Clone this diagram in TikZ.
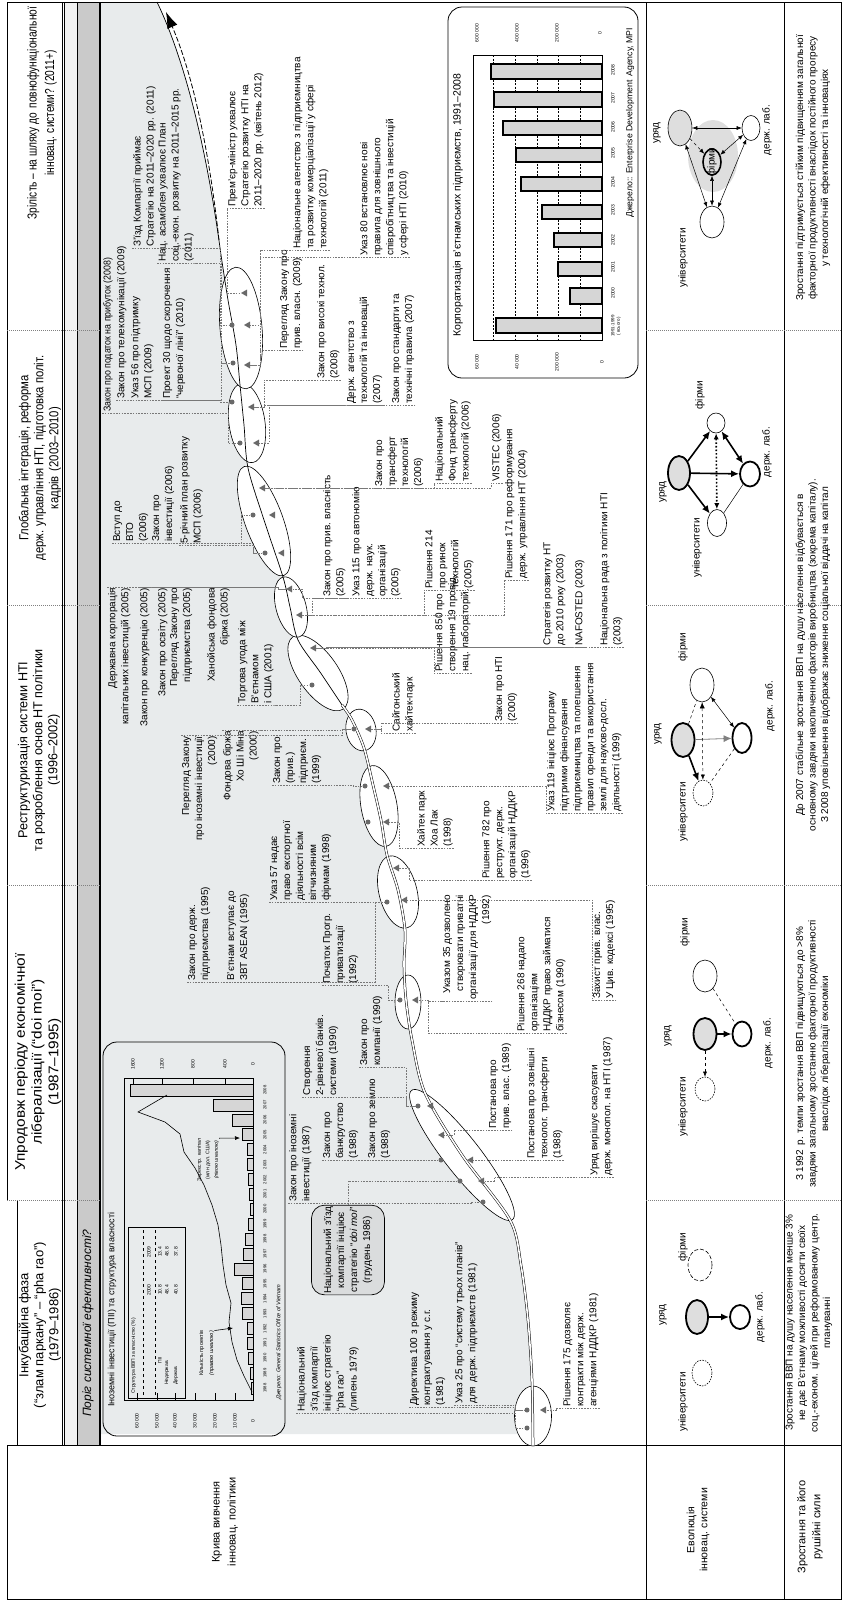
\documentclass[tikz,border=0pt]{standalone}
\usepackage{fontspec}
\setmainfont{Liberation Sans}
\usetikzlibrary{arrows.meta,shapes.geometric,calc}
\definecolor{bgfill}{RGB}{232,235,236}
\definecolor{bandlt}{RGB}{241,241,241}
\definecolor{banddk}{RGB}{202,202,202}
\definecolor{barfill}{RGB}{214,214,214}
\definecolor{mkgray}{RGB}{105,105,105}
\definecolor{leadgray}{RGB}{120,120,120}
\definecolor{govfill}{RGB}{222,222,222}
\definecolor{boxfill}{RGB}{218,220,221}
\tikzset{
  lbl/.style={rotate=90, anchor=north west, align=left, inner sep=1pt,
    font=\fontsize{10}{13}\selectfont},
  lblr/.style={lbl, anchor=north east, align=right},
  hdr/.style={rotate=90, align=center, inner sep=0pt},
  lead/.style={draw=leadgray, line width=0.5pt, dash pattern=on 1.6pt off 1.2pt},
  phase/.style={draw=gray, line width=0.5pt, dash pattern=on 1pt off 1pt},
  ell/.style={draw, fill=white, line width=0.6pt},
  dmark/.style={circle, fill=mkgray, inner sep=0pt, minimum size=5pt},
  tmark/.style={regular polygon, regular polygon sides=3, fill=mkgray, inner sep=0pt,
    minimum size=8pt, rotate=90},
  tiny/.style={rotate=90, inner sep=0pt, font=\fontsize{5}{6}\selectfont},
  actor/.style={ellipse, draw, fill=white, inner sep=0pt, line width=0.6pt},
  gov/.style={actor, fill=govfill, line width=1.8pt},
  lab/.style={actor, line width=1.8pt},
  evl/.style={rotate=90, inner sep=0pt, font=\fontsize{10}{12}\selectfont},
  grw/.style={rotate=90, align=center, inner sep=0pt, font=\fontsize{10}{12.5}\selectfont},
  bigarr/.style={line width=1.6pt, -{Latex[length=8pt,width=7pt]}},
  thinarr/.style={line width=0.5pt, {Latex[length=5pt,width=4pt]}-{Latex[length=5pt,width=4pt]}},
  chbar/.style={fill=barfill, draw, line width=0.6pt}
}
\begin{document}
\begin{tikzpicture}[x=1pt, y=-1pt]
\useasboundingbox (0,0) rectangle (843,1601);

% grey field below the learning curve
\fill[bgfill] (100,2) -- (157,2) .. controls (185,60) and (207,150) .. (221,255)
  -- plot[smooth, tension=0.5] coordinates {(221,255) (228,300) (236,345) (240,385) (244,425)
     (248,468) (264,520) (283,577) (290,607) (298,640) (320,672) (342,705) (352,720) (364,748)
     (373,785) (381,820) (387,855) (398,890) (405,930) (404,965) (406,1000) (412,1040)
     (425,1093) (462,1155) (510,1220) (521,1265) (528,1320) (532,1380) (533,1434)}
  -- (100,1434) -- cycle;

% table frame, bands and rows
\fill[bandlt] (64,2) rectangle (77,1445);
\fill[banddk] (77,2) rectangle (99,1445);
\draw[line width=0.5pt] (77,2) -- (77,1445);
\draw[line width=2pt] (99.5,2) -- (99.5,1445);
\draw[line width=0.5pt] (62,2) -- (62,1445) (64,2) -- (64,1445);
\draw[line width=0.7pt] (7,2) -- (841,2) -- (841,1599) -- (7,1599) -- (7,1445) (7,1200) -- (7,2);
\draw[line width=0.7pt] (17,1200) -- (17,1445);
\draw[line width=0.7pt] (7,1445) -- (841,1445);
\draw[line width=0.7pt] (646,2) -- (646,1599) (784,2) -- (784,1599);
\foreach \py in {330,605,885,1200} {
  \draw[phase] (7,\py) -- (100,\py);
  \draw[phase] (646,\py) -- (841,\py);
}
\node[rotate=90, anchor=west, inner sep=0pt, font=\itshape\fontsize{12}{14}\selectfont]
  (thresh) at (88,1417) {Поріг системної ефективності?};

% headers
\node[hdr, font=\fontsize{13}{17.7}\selectfont, xscale=0.78] (hmat) at (42,113)
  {Зрілість – на шляху до\, повнофункціональної\\інновац. системи? (2011+)};
\node[hdr, font=\fontsize{13}{15}\selectfont, xscale=0.87] (hglob) at (40,458)
  {Глобальна інтеграція, реформа\\держ. управління НТІ, підготовка політ.\\кадрів\, (2003–2010)};
\node[hdr, font=\fontsize{13}{15}\selectfont, xscale=0.97] (hrestr) at (39,750)
  {Реструктуризація системи НТІ\\та розроблення основ НТ політики\\(1996–2002)};
\node[hdr, font=\fontsize{14}{16.7}\selectfont, xscale=1.1] (hdoi) at (38,1062)
  {Упродовж періоду економічної\\лібералізації (“doi moi”)\\(1987–1995)};
\node[hdr, font=\fontsize{13}{15}\selectfont] (hinc) at (40,1325)
  {Інкубаційна фаза\\(“злам паркану” – “pha rao”)\\(1979–1986)};
\node[hdr, font=\fontsize{11}{16}\selectfont] (rcurve) at (225,1522) {Крива вивчення\\інновац. політики};
\node[hdr, font=\fontsize{10.5}{13}\selectfont] (revol) at (698,1530) {Еволюція\\інновац. системи};
\node[hdr, font=\fontsize{11}{15}\selectfont] (rgrow) at (810,1527) {Зростання та його\\рушійні сили};

% FDI inset
\draw[line width=0.8pt, rounded corners=14pt] (103,1042) rectangle (285,1436);
\node[rotate=90, anchor=west, inner sep=0pt, font=\fontsize{9}{10}\selectfont] (fditit) at (112,1407)
  {Іноземні інвестиції (ПІІ) та структура власності};
\foreach \i/\top in {0/251,1/250,2/248,3/247,4/247,5/242,6/241,7/242,8/234,9/243,10/245,
  11/248,12/250,13/249,14/248,15/247,16/247,17/242,18/232,19/213,20/130}
  \draw[chbar] (\top,{1388-14.9*\i-6}) rectangle (253,{1388-14.9*\i+6});
\draw[line width=0.6pt] (124,1078) rectangle (253,1400);
\foreach \tx/\tl [count=\k] in {137/60 000,157/50 000,175/40 000,195/30 000,215/20 000,235/10 000,253/0} {
  \draw[line width=0.8pt] (\tx,1400) -- (\tx,1393);
  \node[tiny] (fl\k) at (\tx,1421) {\tl};
}
\foreach \tx/\tl [count=\k] in {133/1600,162/1200,193/800,225/400,253/0} {
  \draw[line width=0.8pt] (\tx,1078) -- (\tx,1085);
  \node[tiny] (fr\k) at (\tx,1064) {\tl};
}
\foreach \i in {0,...,20} {
  \pgfmathtruncatemacro\yr{1988+\i}
  \node[tiny, font=\fontsize{4.2}{5}\selectfont] (fy\i) at (265,{1388-14.9*\i}) {\yr};
}
\node[tiny, anchor=west, font=\itshape\fontsize{5.6}{6}\selectfont] (fdisrc) at (279,1400)
  {Джерело: General Statistics Office of Vietnam};
\draw[line width=0.6pt] (252,1392) -- (244,1376) -- (237,1360) -- (232,1342) -- (229,1322)
  -- (231,1303) -- (226,1285) -- (223,1265) -- (221,1245) -- (218,1225) -- (212,1205)
  -- (204,1185) -- (195,1168) -- (184,1152) -- (180,1134) -- (165,1122) -- (138,1112) -- (167,1095);
\node[tiny, anchor=north west, align=left, font=\fontsize{5.5}{10}\selectfont] (fdiproj) at (199,1376)
  {Кількість проектів\\\textit{(правою шкалою)}};
\coordinate (fdiline) at (233,1328);
\draw[line width=0.6pt, -{Latex[length=5pt,width=4pt]}] (fdiproj.south east) -- (fdiline);
\node[tiny, align=center, font=\fontsize{5.2}{8.5}\selectfont] (fdicap) at (208,1160)
  {Зареєстр. капітал\\(млн дол. США)\\\textit{(лівою шкалою)}};
\coordinate (fdibar) at (240,1138);
\draw[line width=0.6pt, -{Latex[length=5pt,width=4pt]}] (fdicap.south east) -- (fdibar);
\draw[line width=0.5pt] (128,1227) rectangle (185,1398);
\node[tiny, anchor=north west] (tabt) at (131,1394) {Структура ВВП за власністю (\%)};
\draw[line width=0.3pt, dashed] (143,1395) -- (143,1230) (155,1395) -- (155,1230);
\node[tiny] (tc1) at (149,1290) {2000};
\node[tiny] (tc2) at (149,1252) {2009};
\node[tiny] (tr1) at (160,1360) {ПІІ};
\node[tiny, anchor=west] (tr2) at (167,1385) {Недержав.};
\node[tiny, anchor=west] (tr3) at (176,1385) {Держав.};
\foreach \vx/\va/\vb [count=\k] in {160/10.8/13.4,167/48.4/48.8,176/40.8/37.8} {
  \node[tiny] (tva\k) at (\vx,1290) {\va};
  \node[tiny] (tvb\k) at (\vx,1252) {\vb};
}

% corporatisation inset
\draw[line width=0.8pt, rounded corners=14pt] (448,7) rectangle (638,378);
\node[rotate=90, anchor=west, inner sep=0pt, font=\fontsize{10.5}{12}\selectfont] (cortit) at (458,337)
  {Корпоратизація в’єтнамських підприємств, 1991–2008};
\draw[line width=0.6pt] (473,55) rectangle (602,340);
\foreach \gx in {493,515,537,558,580}
  \draw[line width=0.5pt, dash pattern=on 2pt off 1.5pt] (\gx,55) -- (\gx,340);
\foreach \top/\ya/\yb in {496/318/333,570/288/304,558/262/276,554/233/247,542/205/219,
  521/177/191,516/148/162,503/121/135,494/92/107,491/64/79}
  \draw[chbar, line width=1.1pt] (\top,\ya) rectangle (602,\yb);
\foreach \cy/\cl [count=\k] in {293/2000,267/2001,240/2002,210/2003,182/2004,153/2005,127/2006,98/2007,70/2008}
  \node[tiny] (cy\k) at (613,\cy) {\cl};
\node[tiny, align=center, font=\fontsize{4.5}{5.5}\selectfont] (cy0) at (616,326) {1991-1999\\( всього )};
\foreach \cx/\cl [count=\k] in {477/60 000,517/40 000,557/200 000,602/0}
  \node[tiny] (cl\k) at (\cx,362) {\cl};
\foreach \cx/\cl [count=\k] in {477/600 000,517/400 000,557/200 000,600/0}
  \node[tiny] (cr\k) at (\cx,33) {\cl};
\node[rotate=90, anchor=west, inner sep=0pt, font=\fontsize{8.7}{10}\selectfont] (corsrc) at (630,218)
  {Джерело:: Enterprise Development\, Agency, MPI};

% milestone ellipses along the curve
\draw[ell] (533,1416) ellipse [x radius=18.5pt, y radius=30pt];
\draw[ell, rotate around={128:(462,1155)}] (462,1155) ellipse [x radius=82pt, y radius=18pt];
\draw[ell] (408,1002) ellipse [x radius=13pt, y radius=27pt];
\draw[ell, rotate around={14:(398,892)}] (398,892) ellipse [x radius=19pt, y radius=37pt];
\draw[ell, rotate around={10:(379,806)}] (379,806) ellipse [x radius=18pt, y radius=41pt];
\draw[ell, rotate around={10:(361,730)}] (361,730) ellipse [x radius=15pt, y radius=21pt];
\draw[ell, rotate around={35:(318,673)}] (318,673) ellipse [x radius=20pt, y radius=44pt];
\draw[ell, rotate around={15:(291,607)}] (291,607) ellipse [x radius=15pt, y radius=31pt];
\draw[ell, rotate around={20:(264,521)}] (264,521) ellipse [x radius=19pt, y radius=58pt];
\draw[ell, rotate around={8:(247,423)}] (247,423) ellipse [x radius=18pt, y radius=40pt];
\draw[ell, rotate around={5:(241,328)}] (241,328) ellipse [x radius=21pt, y radius=61pt];

% the learning curve
\draw[line width=0.7pt] plot[smooth, tension=0.5] coordinates {(221,255) (228,300) (236,345)
  (240,385) (244,425) (248,468) (264,520) (283,577) (290,607) (298,640) (320,672) (342,705)};
\draw[line width=0.5pt, double=white, double distance=1.6pt] plot[smooth, tension=0.5]
  coordinates {(342,705) (352,720) (364,748) (373,785) (381,820) (387,855) (398,890) (405,930)
  (404,965) (406,1000) (412,1040) (425,1093) (462,1155) (510,1220) (521,1265) (528,1320)
  (532,1380) (533,1445)};
\draw[line width=0.7pt] (221,255) .. controls (207,150) and (185,60) .. (157,2);
\draw[line width=0.8pt, dash pattern=on 5pt off 2pt, -{Latex[length=16pt,width=11pt]}]
  (219,240) .. controls (209,150) and (193,75) .. (166,12);

% milestone markers
\foreach \n/\px/\py in {d1a/527/1410,d1b/527/1428,d2a/418/1106,d2b/441/1160,d2c/460/1181,
  d2d/483/1202,d3/400/1000,d4/387/902,d5a/365/786,d5b/368/822,d6/354/729,d7/312/685,
  d9a/253/515,d9b/265/553,d10a/232/402,d10b/240/443,d11a/232/325,d11b/233/363}
  \node[dmark] (\n) at (\px,\py) {};
\foreach \n/\px/\py in {t1a/544/1410,t2a/431/1106,t2b/442/1135,t2c/471/1160,t2d/482/1181,
  t3/416/1000,t4a/397/868,t4b/405/900,t5a/387/786,t5b/387/822,t6/369/729,t7/314/648,
  t8a/290/589,t8b/300/615,t9a/273/515,t9b/282/553,t9c/263/488,t10a/252/407,t10b/257/443,
  t11a/248/325,t11b/248/365,t11c/245/293}
  \node[tmark] (\n) at (\px,\py) {};

% policy milestones: maturity
\node[lbl] (Z1) at (132,248) {З’їзд Компартії приймає\\Стратегію на 2011–2020 рр. (2011)};
\node[lbl] (Z2) at (157,263) {Нац. асамблея ухвалює План\\соц.-екон. розвитку на 2011–2015 рр.\\(2011)};
\node[lbl] (Z3) at (227,208) {Прем’єр-міністр ухвалює\\Стратегію розвитку НТІ на\\2011–2020 рр. (квітень 2012)};
\node[lbl] (Z4) at (292,250) {Національне агентство з підприємництва\\та розвитку комерціалізації у сфері\\технологій (2011)};
\node[lbl] (Z5) at (359,257) {Указ 80 встановлює нові\\правила для зовнішнього\\співробітництва та інвестицій\\у сфері НТІ (2010)};

% global integration
\node[lbl, xscale=0.88] (G1) at (102,413) {Закон про податок на прибуток (2008)};
\node[lbl] (G2) at (116,400) {Закон про телекомунікації (2009)};
\node[lbl] (G3) at (130,400) {Указ 56 про підтримку\\МСП (2009)};
\node[lbl] (G4) at (162,400) {Проект 30 щодо скорочення\\“червоної лінії” (2010)};
\node[lbl] (G5) at (279,350) {Перегляд Закону про\\прив. власн. (2009)};
\node[lbl] (G6) at (316,380) {Закон про високі технол.\\(2008)};
\node[lbl] (G7) at (346,405) {Держ. агентство з\\технологій та інновацій\\(2007)};
\node[lbl] (G8) at (391,405) {Закон про стандарти та\\технічні правила (2007)};
\node[lbl] (G9) at (112,543) {Вступ до\\ВТО\\(2006)};
\node[lbl] (G10) at (151,543) {Закон про\\інвестиції (2006)};
\node[lbl] (G10b) at (179,545) {5-річний план розвитку\\МСП (2006)};
\node[lbl] (GT) at (374,488) {Закон про\\трансферт\\технологій\\(2006)};
\node[lbl] (GN) at (434,483) {Національний\\Фонд трансферту\\технологій (2006)};
\node[lbl] (GV) at (491,483) {VISTEC (2006)};
\node[lblr] (G11) at (107,587) {Державна корпорація\\капітальних інвестицій (2005)};
\node[lblr] (G12) at (139,587) {Закон про конкуренцію (2005)};
\node[lblr] (G13) at (157,587) {Закон про освіту (2005)};
\node[lblr] (G14) at (169,587) {Перегляд Закону про\\підприємства (2005)};
\node[lblr] (G15) at (206,587) {Ханойська фондова\\біржа (2005)};
\node[lbl] (G16) at (322,598) {Закон про прив. власність\\(2005)};
\node[lbl] (G17) at (351,598) {Указ 115 про автономію\\держ. наук.\\організацій\\(2005)};
\node[lbl] (G18) at (424,590) {Рішення 214\\про ринок\\технологій\\(2005)};
\node[lbl] (G19) at (504,580) {Рішення 171 про реформування\\держ. управління НТ (2004)};
\node[lbl] (G20) at (542,647) {Стратегія розвитку НТ\\до 2010 року (2003)};
\node[lbl] (G21) at (574,647) {NAFOSTED (2003)};
\node[lbl] (G22) at (599,647) {Національна рада з політики НТІ\\(2003)};

% restructuring
\node[lbl] (T1) at (237,705) {Торгова угода між\\В’єтнамом\\і США (2001)};
\node[lblr] (R4) at (181,735) {Перегляд Закону\\про іноземні інвестиції\\(2000)};
\node[lblr] (R5) at (222,730) {Фондова біржа\\Хо Ші Міна\\(2000)};
\node[lbl] (R6) at (272,785) {Закон про\\(прив.)\\підприєм.\\(1999)};
\node[lbl] (U57) at (269,902) {Указ 57 надає\\право експортної\\діяльності всім\\вітчизняним\\фірмам (1998)};
\node[lbl] (R1) at (391,733) {Сайгонський\\хайтек-парк};
\node[lbl] (R2) at (434,673) {Рішення 850 про\\створення 19 провід.\\нац. лабораторій.};
\node[lbl] (R3) at (494,723) {Закон про НТІ\\(2000)};
\node[lbl] (R7) at (416,848) {Хайтек парк\\Хоа Лак\\(1998)};
\node[lbl] (R8) at (481,880) {Рішення 782 про\\реструкт. держ.\\організацій НДДКР\\(1996)};
\node[lbl] (R9) at (546,813) {Указ 119 ініціює Програму\\підтримки фінансування\\підприємництва та полегшення\\правил оренди та використання\\землі для науково-досл.\\діяльності (1999)};

% doi moi
\node[lbl] (U1) at (187,982) {Закон про держ.\\підприємства (1995)};
\node[lbl] (U2) at (226,982) {В’єтнам вступає до\\ЗВТ ASEAN (1995)};
\node[lbl] (U3) at (322,985) {Початок Прогр.\\приватизації\\(1992)};
\node[lbl] (U4) at (302,1097) {Створення\\2-рівневої банків.\\системи (1990)};
\node[lbl] (U5) at (359,1067) {Закон про\\компанії (1990)};
\node[lbl] (U6) at (288,1203) {Закон про іноземні\\інвестиції (1987)};
\node[lbl] (U7) at (322,1160) {Закон про\\банкрутство\\(1988)};
\node[lbl] (U8) at (367,1160) {Закон про землю\\(1988)};
\node[rotate=90, draw, fill=boxfill, line width=0.7pt, rounded corners=13pt, align=center,
  minimum width=84pt, minimum height=73pt, inner sep=1pt, font=\fontsize{10}{13}\selectfont]
  (U9) at (348,1250) {Національний з’їзд\\компартії ініціює\\стратегію “\textit{doi moi}”\\(грудень 1986)};
\node[lbl] (U14) [align=right] at (442,1001) {Указом 35 дозволено\\створювати приватні\\організації для НДДКР\\(1992)};
\node[lbl] (U15) at (488,1130) {Постанова про\\прив. влас. (1989)};
\node[lbl] (U16) at (516,1033) {Рішення 268 надало\\організаціям\\НДДКР право займатися\\бізнесом (1990)};
\node[lbl] (U17) at (526,1160) {Постанова про зовнішні\\технолог. трансферти\\(1988)};
\node[lbl] (U18) at (589,1177) {Уряд вирішує скасувати\\держ. монопол. на НТІ (1987)};
\node[lbl] (U19) at (592,1000) {Захист прив. влас.\\У Цив. кодексі (1995)};

% incubation
\node[lbl] (U10) at (296,1413) {Національний\\з’їзд компартії\\ініціює стратегію\\“pha rao”\\(липень 1979)};
\node[lbl] (U11) at (409,1407) {Директива 100 з режиму\\контрактування у с.г.\\(1981)};
\node[lbl] (U12) at (454,1405) {Указ 25 про “систему трьох планів”\\для\, держ. підприємств (1981)};
\node[lbl] (U13) at (562,1408) {Рішення 175 дозволяє\\контракти між держ.\\агенціями НДДКР (1981)};

% leaders from milestones to the curve
\foreach \l/\p in {Z1/d11a,Z2/d11b,G1/d10b,G2/d10a,G3/d10a,G4/d11b,G9/d9a,G10/d9b,G10b/d9b,
  T1/d7,R6/d5a,U57/d4,U1/d4,U2/d4,U3/d3,U4/d2a,U5/d2a,U6/d2d,U7/d2b,U8/d2b,U10/d1b,U11/d1a,U12/d1a}
  \draw[lead] (\l.north west) -- (\l.south west) -| ($(\p)+(-12,0)$) -- (\p);
\foreach \l/\p in {G11/t8a,G12/t8a,G13/t8a,G14/t8a,G15/t8a,R4/d6,R5/d6}
  \draw[lead] (\l.north east) -- (\l.south east) -| ($(\p)+(-12,0)$) -- (\p);
\foreach \l/\p in {Z4/t11a,Z5/t11b,G5/t11b,G6/t10a,G7/t10a,G8/t10b,GT/t9c,G16/t8a,G17/t8b,
  G20/t7,G21/t7,G22/t7,R1/t6,R3/t6,R7/t5b,R8/t4a,U13/t1a,U14/t3,U15/t2b,U16/t3,U17/t2c,U18/t2d}
  \draw[lead] (\l.south west) -- (\l.north west) -| ($(\p)+(12,0)$) -- (\p);
\foreach \l/\p in {Z3/t11c,GN/t9c,GV/t9c,G18/t8b,G19/t8b,R2/t7,R9/t5a,U19/t4b}
  \draw[lead] (\l.south west) -- (\l.north west) |- (\p);
\draw[lead] (U9.east) |- (d2c);

% evolution of the innovation system
% incubation
\node[gov, minimum width=22pt, minimum height=34pt] (gov1) at (697,1317) {};
\node[lab, minimum width=20pt, minimum height=24pt] (lab1) at (740,1317) {};
\node[actor, dash pattern=on 1.5pt off 1.2pt, minimum width=20pt, minimum height=26pt] (uni1) at (702,1373) {};
\node[actor, dash pattern=on 4pt off 2pt, minimum width=24pt, minimum height=32pt] (firm1) at (700,1265) {};
\draw[bigarr] (gov1) -- (lab1);
\node[evl] (tgov1) at (663,1315) {уряд};
\node[evl] (tuni1) at (683,1402) {університети};
\node[evl] (tfirm1) at (683,1247) {фірми};
\node[evl] (tlab1) at (760,1317) {держ. лаб.};
% doi moi
\node[gov, minimum width=23pt, minimum height=32pt] (gov2) at (705,1034) {};
\node[lab, minimum width=19pt, minimum height=25pt] (lab2) at (742,1034) {};
\node[actor, dash pattern=on 1.5pt off 1.2pt, minimum width=20pt, minimum height=24pt] (uni2) at (705,1089) {};
\node[actor, minimum width=24pt, minimum height=32pt] (firm2) at (705,976) {};
\draw[bigarr] (gov2) -- (lab2);
\draw[line width=0.5pt, dashed, -{Latex[length=5pt,width=4pt]}] (gov2) -- (uni2);
\draw[line width=0.5pt, dashed] (firm2) -- (lab2);
\node[evl] (tgov2) at (668,1036) {уряд};
\node[evl] (tuni2) at (683,1107) {університети};
\node[evl] (tfirm2) at (685,932) {фірми};
\node[evl] (tlab2) at (768,1043) {держ. лаб.};
% restructuring
\node[gov, minimum width=23pt, minimum height=34pt] (gov3) at (683,740) {};
\node[actor, minimum width=24pt, minimum height=34pt] (firm3) at (702,685) {};
\node[lab, minimum width=19pt, minimum height=30pt] (lab3) at (742,738) {};
\node[actor, dash pattern=on 1.5pt off 1.2pt, minimum width=20pt, minimum height=26pt] (uni3) at (703,793) {};
\draw[bigarr] (gov3) -- (uni3);
\draw[draw=gray, line width=0.8pt, -{Latex[length=8pt,width=7pt]}] (gov3) -- (lab3);
\draw[thinarr] (firm3) -- (lab3);
\draw[line width=0.5pt, dashed, {Latex[length=6pt,width=5pt]}-{Latex[length=5pt,width=4pt]}] (firm3) -- (uni3);
\draw[line width=0.5pt, dashed] (gov3) -- (firm3);
\draw[line width=0.5pt, dashed] (lab3) -- (uni3);
\node[evl] (tgov3) at (658,734) {уряд};
\node[evl] (tfirm3) at (683,647) {фірми};
\node[evl] (tlab3) at (770,706) {держ. лаб.};
\node[evl] (tuni3) at (683,812) {університети};
% global integration
\node[gov, minimum width=22pt, minimum height=34pt] (gov4) at (679,473) {};
\node[actor, minimum width=18pt, minimum height=20pt] (firm4) at (716,423) {};
\node[lab, minimum width=20pt, minimum height=25pt] (lab4) at (750,474) {};
\node[actor, minimum width=19pt, minimum height=27pt] (uni4) at (717,523) {};
\draw[bigarr] (gov4) -- (firm4);
\draw[bigarr] (gov4) -- (lab4);
\draw[bigarr] (gov4) -- (uni4);
\draw[line width=1.6pt, {Latex[length=8pt,width=7pt]}-{Latex[length=8pt,width=7pt]}] (firm4) -- (lab4);
\draw[line width=1.6pt, dotted, {Latex[length=6pt,width=5pt]}-{Latex[length=6pt,width=5pt]}] (firm4) -- (uni4);
\draw[line width=0.5pt] (lab4) -- (uni4);
\node[evl] (tgov4) at (663,492) {уряд};
\node[evl] (tuni4) at (697,548) {університети};
\node[evl] (tlab4) at (767,452) {держ. лаб.};
\node[evl] (tfirm4) at (700,395) {фірми};
% maturity
\fill[govfill] (713,156) ellipse [x radius=25pt, y radius=36pt];
\node[actor, fill=govfill, minimum width=24pt, minimum height=36pt] (gov5) at (680,128) {};
\node[actor, minimum width=18pt, minimum height=25pt] (lab5) at (751,128) {};
\node[actor, minimum width=24pt, minimum height=32pt] (uni5) at (712,222) {};
\node[actor, fill=govfill, line width=1.6pt, minimum width=18pt, minimum height=26pt] (firm5) at (712,162) {};
\draw[thinarr] (gov5) -- (lab5);
\draw[thinarr] (gov5) -- (uni5);
\draw[thinarr] (lab5) -- (uni5);
\draw[line width=0.5pt, dashed, -{Latex[length=5pt,width=4pt]}] (gov5) -- (firm5);
\draw[thinarr] (lab5) -- (firm5);
\draw[thinarr] (uni5) -- (firm5);
\node[evl] (tfirm5) at (712,162) {фірми};
\node[evl] (tgov5) at (657,133) {уряд};
\node[evl] (tuni5) at (683,258) {університети};
\node[evl] (tlab5) at (767,130) {держ. лаб.};

% growth and its drivers
\node[grw] (gr1) at (809,1323) {Зростання ВВП на душу населення менше 3\%\\не дає В’єтнаму можливості досягти своїх\\соц.-економ. цілей при реформованому центр.\\плануванні};
\node[grw] (gr2) at (813,1054) {З 1992\, р. темпи зростання ВВП підвищуються до >8\%\\завдяки загальному зростанню факторної продуктивності\\внаслідок лібералізації економіки};
\node[grw] (gr3) at (813,655) {До 2007 стабільне зростання ВВП на душу населення відбувається в\\основному завдяки накопиченню факторів виробництва (зокрема капіталу).\\З 2008 уповільнення відображає зниження соціальної віддачі на капітал};
\node[grw] (gr4) at (813,168) {Зростання підтримується стійким підвищенням загальної\\факторної продуктивності внаслідок постійного прогресу\\у технологічній ефективності та інноваціях};
\end{tikzpicture}
\end{document}
